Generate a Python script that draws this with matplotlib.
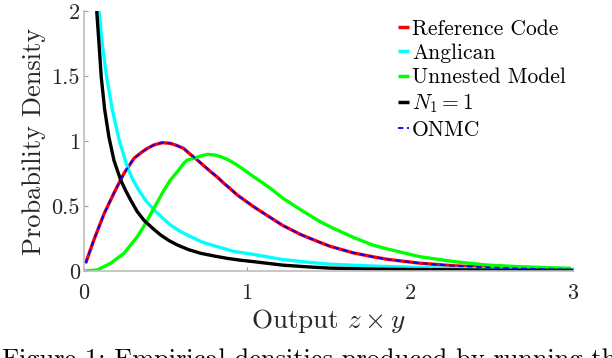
import matplotlib
matplotlib.use("Agg")
import matplotlib.pyplot as plt

plt.rcParams['font.family'] = 'serif'
plt.rcParams['font.serif'] = ['cmr10', 'DejaVu Serif']
plt.rcParams['mathtext.fontset'] = 'cm'
plt.rcParams['axes.unicode_minus'] = False
plt.rcParams['axes.formatter.use_mathtext'] = True

# ---- data ----
ref_x = [0.01, 0.061, 0.123, 0.184, 0.245, 0.307, 0.35, 0.389, 0.43, 0.48, 0.53, 0.57, 0.61,
         0.65, 0.695, 0.735, 0.777, 0.82, 0.859, 0.90, 0.94, 0.99, 1.04, 1.12, 1.22, 1.33,
         1.448, 1.51, 1.65, 1.77, 1.86, 2.06, 2.27, 2.47, 2.7, 3.0]
ref_y = [0.06, 0.24, 0.44, 0.60, 0.75, 0.867, 0.91, 0.944, 0.97, 0.987, 0.982, 0.965, 0.944,
         0.90, 0.854, 0.81, 0.764, 0.72, 0.674, 0.63, 0.585, 0.54, 0.495, 0.43, 0.35, 0.28,
         0.22, 0.19, 0.14, 0.11, 0.09, 0.06, 0.04, 0.028, 0.018, 0.01]

onmc_x = ref_x
onmc_y = ref_y

ang_x = [0.092, 0.112, 0.139, 0.174, 0.215, 0.266, 0.30, 0.337, 0.38, 0.43, 0.48, 0.53, 0.59,
         0.654, 0.73, 0.818, 0.92, 1.04, 1.22, 1.37, 1.51, 1.77, 2.06, 2.27, 2.6, 3.0]
ang_y = [2.0, 1.75, 1.49, 1.24, 1.01, 0.80, 0.70, 0.62, 0.54, 0.47, 0.41, 0.354, 0.305,
         0.264, 0.22, 0.187, 0.15, 0.128, 0.088, 0.068, 0.052, 0.038, 0.027, 0.02, 0.015, 0.01]

unn_x = [0.0, 0.082, 0.164, 0.245, 0.327, 0.37, 0.41, 0.45, 0.49, 0.53, 0.573, 0.613, 0.634,
         0.675, 0.715, 0.757, 0.80, 0.838, 0.88, 0.92, 0.98, 1.04, 1.10, 1.16, 1.22, 1.33,
         1.448, 1.51, 1.65, 1.77, 1.86, 2.06, 2.27, 2.47, 2.67, 2.99]
unn_y = [0.0, 0.008, 0.06, 0.136, 0.264, 0.35, 0.44, 0.53, 0.62, 0.70, 0.764, 0.83, 0.854,
         0.867, 0.885, 0.897, 0.893, 0.88, 0.858, 0.83, 0.78, 0.726, 0.675, 0.62, 0.56, 0.47,
         0.38, 0.34, 0.26, 0.20, 0.17, 0.11, 0.072, 0.046, 0.033, 0.02]

n1_x = [0.078, 0.092, 0.106, 0.127, 0.153, 0.184, 0.225, 0.255, 0.286, 0.325, 0.368, 0.42,
        0.47, 0.52, 0.573, 0.64, 0.716, 0.80, 0.88, 0.96, 1.04, 1.22, 1.37, 1.51, 1.86, 2.5, 3.0]
n1_y = [2.0, 1.75, 1.49, 1.24, 1.03, 0.85, 0.70, 0.62, 0.546, 0.46, 0.39, 0.33,
        0.277, 0.235, 0.20, 0.165, 0.136, 0.115, 0.097, 0.083, 0.072, 0.045, 0.032, 0.022,
        0.013, 0.007, 0.004]

labels = ["Reference Code", "Anglican", "Unnested Model", r"$N_1 = 1$", "ONMC"]
x_ticks = [0, 1, 2, 3]
y_ticks = [0, 0.5, 1, 1.5, 2]
y_tick_labels = ["0", "0.5", "1", "1.5", "2"]

fig = plt.figure(figsize=(6.12, 3.58), dpi=100)
ax = fig.add_axes([84/612, 1 - 271/358, 489/612, 260/358])

lw = 2.4
kw = dict(solid_joinstyle='round', solid_capstyle='butt')
l1, = ax.plot(ref_x, ref_y, color=(1, 0, 0), lw=lw, label=labels[0], **kw)
l2, = ax.plot(ang_x, ang_y, color=(0, 1, 1), lw=lw, label=labels[1], **kw)
l3, = ax.plot(unn_x, unn_y, color=(0, 1, 0), lw=lw, label=labels[2], **kw)
l4, = ax.plot(n1_x, n1_y, color='black', lw=lw, label=labels[3], **kw)
l5, = ax.plot(onmc_x, onmc_y, color=(0, 0, 1), lw=1.3, dashes=(3, 2), label=labels[4])

ax.set_xlim(0, 3)
ax.set_ylim(0, 2)
ax.set_xticks(x_ticks)
ax.set_xticklabels([str(t) for t in x_ticks])
ax.set_yticks(y_ticks)
ax.set_yticklabels(y_tick_labels)
for s in ['top', 'right']:
    ax.spines[s].set_visible(False)
for s in ['left', 'bottom']:
    ax.spines[s].set_color('#bdbdbd')
    ax.spines[s].set_linewidth(1.2)
ax.tick_params(direction='in', length=3, width=0.8, color='#9a9a9a',
               labelsize=16, labelcolor='#262626', pad=3)
ax.tick_params(axis='x', pad=9)
ax.set_ylabel("Probability Density", fontsize=19, color='#262626', labelpad=4)
ax.set_xlabel(r"Output $z \times y$", fontsize=19.5, color='#262626', labelpad=3)

leg = fig.legend(handles=[l1, l2, l3, l4, l5], loc='upper left',
                 bbox_to_anchor=(398/612, 1 - 19/358), frameon=False,
                 fontsize=15.5, handlelength=0.5, handletextpad=0.15,
                 labelspacing=0.23, borderpad=0, borderaxespad=0)
for h in leg.legend_handles:
    h.set_linewidth(2.5)
leg.legend_handles[4].set_linewidth(1.3)

fig.text(2/612, -9/358, "Figure 1: Empirical densities produced by running the",
         fontsize=19, color='black', ha='left', va='baseline')

fig.savefig("out.png", dpi=100)
